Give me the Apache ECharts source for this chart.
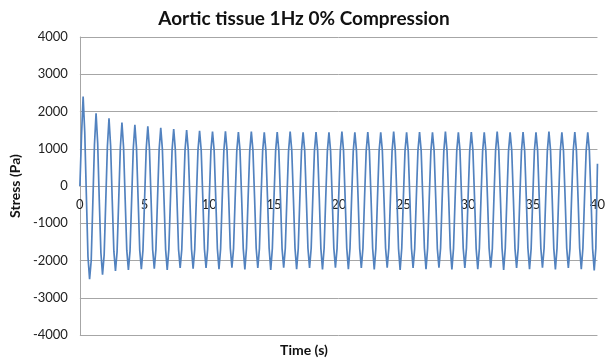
<!DOCTYPE html>
<html>
<head>
<meta charset="utf-8">
<script src="https://cdn.jsdelivr.net/npm/echarts@6/dist/echarts.min.js"></script>
<style>
  html, body { margin: 0; padding: 0; background: #fff; }
  #chart { width: 608px; height: 362px; }
</style>
</head>
<body>
<div id="chart"></div>
<script>
// Stress recorded at 8 samples per second (one row per 1 s loading cycle).
const sampleRate = 8;
const stressCycles = [
  [0, 1350, 2400, 1450, -250, -1900, -2500, -2000],
  [-450, 1100, 1950, 1150, -400, -1800, -2380, -1850],
  [-400, 1050, 1820, 1080, -380, -1750, -2280, -1760],
  [-380, 1020, 1700, 1040, -360, -1730, -2250, -1740],
  [-370, 1000, 1640, 1020, -350, -1720, -2230, -1720],
  [-360, 990, 1600, 1000, -340, -1710, -2220, -1710],
  [-350, 980, 1560, 990, -340, -1700, -2250, -1700],
  [-350, 970, 1530, 980, -330, -1700, -2200, -1700],
  [-340, 960, 1500, 970, -330, -1690, -2220, -1700],
  [-340, 950, 1480, 960, -320, -1690, -2200, -1690],
  [-340, 950, 1460, 960, -320, -1680, -2230, -1690],
  [-330, 940, 1470, 950, -320, -1670, -2190, -1680],
  [-330, 940, 1450, 950, -310, -1680, -2240, -1670],
  [-330, 930, 1460, 950, -310, -1670, -2200, -1680],
  [-320, 940, 1440, 950, -320, -1670, -2250, -1670],
  [-330, 930, 1450, 950, -310, -1680, -2190, -1670],
  [-320, 930, 1460, 950, -310, -1670, -2230, -1680],
  [-320, 940, 1440, 950, -320, -1670, -2200, -1670],
  [-330, 930, 1450, 950, -310, -1680, -2240, -1670],
  [-320, 930, 1440, 940, -310, -1670, -2190, -1680],
  [-320, 940, 1460, 950, -320, -1670, -2230, -1670],
  [-330, 930, 1440, 950, -310, -1680, -2200, -1670],
  [-320, 930, 1450, 940, -310, -1670, -2240, -1680],
  [-320, 940, 1440, 950, -320, -1670, -2190, -1670],
  [-330, 930, 1460, 950, -310, -1680, -2250, -1670],
  [-320, 930, 1440, 940, -310, -1670, -2200, -1680],
  [-320, 940, 1450, 950, -320, -1670, -2230, -1670],
  [-330, 930, 1440, 950, -310, -1680, -2190, -1670],
  [-320, 930, 1460, 940, -310, -1670, -2240, -1680],
  [-320, 940, 1440, 950, -320, -1670, -2200, -1670],
  [-330, 930, 1450, 950, -310, -1680, -2230, -1670],
  [-320, 930, 1440, 940, -310, -1670, -2190, -1680],
  [-320, 940, 1460, 950, -320, -1670, -2250, -1670],
  [-330, 930, 1440, 950, -310, -1680, -2200, -1670],
  [-320, 930, 1450, 940, -310, -1670, -2230, -1680],
  [-320, 940, 1440, 950, -320, -1670, -2190, -1670],
  [-330, 930, 1460, 950, -310, -1680, -2240, -1670],
  [-320, 930, 1440, 940, -310, -1670, -2200, -1680],
  [-320, 940, 1450, 950, -320, -1670, -2230, -1670],
  [-330, 930, 1440, 950, -310, -1680, -2270, -1670]
];
const finalStress = 600;

const xTicks = { min: 0, max: 40, step: 5 };
const yTicks = { min: -4000, max: 4000, step: 1000 };

const titleText = 'Aortic tissue 1Hz 0% Compression';
const xName = 'Time (s)';
const yName = 'Stress (Pa)';

// Flatten the cycles into [time, stress] pairs
const points = [];
stressCycles.forEach(function (row, c) {
  row.forEach(function (v, k) {
    points.push([c + k / sampleRate, v]);
  });
});
points.push([stressCycles.length, finalStress]);

const gridColor = '#a6a6a6';
const font = 'Lato, "Open Sans", "Liberation Sans", sans-serif';

// plot area geometry
const gridTop = 37, gridBottom = 27, chartH = 362;
const plotH = chartH - gridTop - gridBottom;
// lift the time axis so it sits on the zero-stress line
const zeroOffset = -plotH * (0 - yTicks.min) / (yTicks.max - yTicks.min);

const chart = echarts.init(document.getElementById('chart'), null, { renderer: 'canvas' });
chart.setOption({
  animation: false,
  backgroundColor: '#ffffff',
  title: {
    text: titleText,
    left: 'center',
    top: 4,
    textStyle: { fontFamily: font, fontSize: 19, fontWeight: 'bold', color: '#111' }
  },
  grid: { left: 79, right: 10, top: gridTop, bottom: gridBottom },
  xAxis: {
    type: 'value',
    min: xTicks.min,
    max: xTicks.max,
    interval: xTicks.step,
    offset: zeroOffset,
    axisLine: { onZero: false, lineStyle: { color: gridColor, width: 1 } },
    axisTick: { show: false },
    splitLine: { show: false },
    axisLabel: { margin: 12, fontFamily: font, fontSize: 13, color: '#222' }
  },
  yAxis: {
    type: 'value',
    min: yTicks.min,
    max: yTicks.max,
    interval: yTicks.step,
    name: yName,
    nameLocation: 'middle',
    nameGap: 57,
    nameRotate: 90,
    nameTextStyle: { fontFamily: font, fontSize: 14, fontWeight: 'bold', color: '#111' },
    axisLine: { show: true, lineStyle: { color: gridColor, width: 1 } },
    axisTick: { show: false },
    splitLine: { lineStyle: { color: gridColor, width: 1 } },
    axisLabel: {
      margin: 12, fontFamily: font, fontSize: 13, color: '#222',
      formatter: function (v) { return String(v); }
    }
  },
  graphic: [{
    type: 'text',
    left: 'center',
    top: 343,
    style: { text: xName, fontFamily: font, fontSize: 14, fontWeight: 'bold', fill: '#111', x: 10 }
  }],
  series: [{
    type: 'line',
    data: points,
    showSymbol: false,
    lineStyle: { color: '#5282bf', width: 1.7 }
  }]
});
</script>
</body>
</html>
